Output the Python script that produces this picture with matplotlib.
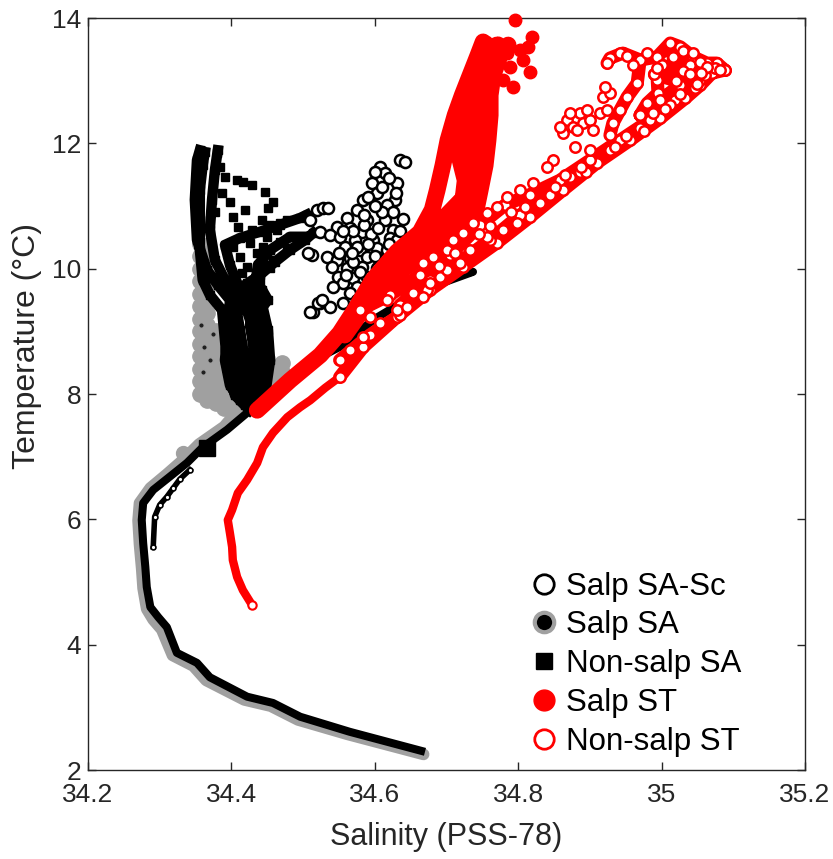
import numpy as np
import matplotlib
matplotlib.use("Agg")
import matplotlib.pyplot as plt
from matplotlib import font_manager
from matplotlib.lines import Line2D

nan = np.nan

# ---------------- data (Salinity, Temperature) ----------------
# Non-salp SA: main deep trace
nsa_trace_S = [34.670, 34.565, 34.496, 34.458, 34.422, 34.370, 34.352, 34.324, 34.310, 34.298,
               34.287, 34.282, 34.280, 34.277, 34.275, 34.277, 34.291, 34.314, 34.338, 34.360,
               34.394, 34.422, 34.440, 34.496, 34.551, 34.600, 34.667, 34.737, 34.700, 34.660]
nsa_trace_T = [2.29, 2.61, 2.85, 3.07, 3.17, 3.48, 3.71, 3.87, 4.28, 4.44,
               4.60, 4.92, 5.24, 5.62, 5.99, 6.26, 6.47, 6.68, 6.90, 7.15,
               7.43, 7.70, 7.86, 8.43, 8.75, 9.20, 9.66, 9.95, 9.90, 9.80]
# Non-salp SA: upper casts (nan separates casts)
nsa_cast_S = [34.437, 34.419, 34.405, 34.395, 34.391, 34.387, 34.370, 34.360, 34.356, 34.356, 34.356, 34.360, 34.363, nan,
              34.443, 34.426, 34.419, 34.412, 34.405, 34.391, 34.377, 34.370, 34.373, 34.377, 34.381, nan,
              34.433, 34.433, 34.426, 34.412, 34.398, 34.391, 34.412, 34.440, 34.468, 34.496, 34.505, nan,
              34.443, 34.447, 34.443, 34.426, 34.419, 34.440, 34.461, 34.482, 34.503, 34.514, nan,
              34.447, 34.454, 34.451, 34.443, 34.433, 34.437, 34.454, 34.482, 34.500, nan,
              34.426, 34.412, 34.398, 34.391, 34.395, 34.398, 34.381, 34.366, 34.352, 34.349, 34.352, 34.356, nan,
              34.451, 34.443, 34.433, 34.426, 34.440, 34.451, 34.443, nan,
              34.423, 34.409, 34.405, 34.402, 34.409, 34.423, 34.433]
nsa_cast_T = [7.74, 7.82, 7.98, 8.38, 8.86, 9.34, 9.58, 9.82, 10.30, 10.78, 11.25, 11.65, 11.86, nan,
              7.82, 8.06, 8.54, 9.02, 9.50, 9.82, 10.14, 10.62, 11.10, 11.57, 11.89, nan,
              7.98, 8.54, 9.18, 9.66, 10.06, 10.38, 10.49, 10.59, 10.70, 10.81, 10.86, nan,
              7.90, 8.38, 8.86, 9.50, 9.74, 9.90, 10.11, 10.30, 10.46, 10.57, nan,
              7.98, 8.54, 9.02, 9.42, 9.74, 10.06, 10.30, 10.51, 10.51, nan,
              7.74, 7.90, 8.14, 8.54, 9.02, 9.50, 9.74, 9.98, 10.46, 11.10, 11.73, 11.89, nan,
              7.90, 8.30, 8.70, 9.10, 9.34, 9.50, 9.66, nan,
              7.82, 8.22, 8.70, 9.18, 9.50, 9.66, 9.79]
# Non-salp SA: scattered squares
nsa_pts_S = [34.380, 34.384, 34.391, 34.408, 34.416, 34.429, 34.387, 34.398, 34.447, 34.458,
             34.377, 34.419, 34.451, 34.402, 34.443, 34.478, 34.409, 34.429, 34.454, 34.468,
             34.416, 34.450, 34.464, 34.482, 34.402, 34.426, 34.444, 34.468, 34.492, 34.412,
             34.436, 34.454, 34.478, 34.422, 34.444, 34.458, 34.415, 34.436, 34.454, 34.422, 34.440]
nsa_pts_T = [11.85, 11.62, 11.46, 11.41, 11.38, 11.33, 11.21, 11.06, 11.22, 11.06,
             10.90, 10.94, 10.97, 10.82, 10.78, 10.78, 10.66, 10.62, 10.70, 10.73,
             10.51, 10.51, 10.62, 10.51, 10.35, 10.41, 10.35, 10.43, 10.46, 10.19,
             10.25, 10.30, 10.33, 10.03, 10.11, 10.14, 9.93, 9.95, 10.01, 9.77, 9.82]
nsa_big_S = [34.366]
nsa_big_T = [7.14]

# Salp SA: trace (grey band) and shallow blob
ssa_trace_S = [34.668, 34.562, 34.493, 34.455, 34.418, 34.365, 34.347, 34.318, 34.303, 34.291,
               34.282, 34.277, 34.275, 34.272, 34.270, 34.272, 34.287, 34.310, 34.333, 34.355,
               34.390, 34.410, 34.430]
ssa_trace_T = [2.25, 2.57, 2.80, 3.02, 3.12, 3.43, 3.66, 3.83, 4.24, 4.40,
               4.57, 4.90, 5.22, 5.60, 5.98, 6.26, 6.50, 6.72, 6.95, 7.20,
               7.48, 7.75, 7.95]
ssa_blob_S = [34.356] * 13 + [34.366] * 13 + [34.378] * 7 + [34.390] * 5 + [34.402] * 3 + [34.414] * 2 \
             + [34.440] * 2 + [34.455] * 2 + [34.470] * 2
ssa_blob_T = [10.4, 10.2, 10.0, 9.8, 9.6, 9.4, 9.2, 9.0, 8.8, 8.6, 8.4, 8.2, 8.0,
              10.3, 10.1, 9.9, 9.7, 9.5, 9.3, 9.1, 8.9, 8.7, 8.5, 8.3, 8.1, 7.9,
              9.0, 8.8, 8.6, 8.4, 8.2, 8.0, 7.85,
              8.5, 8.3, 8.1, 7.9, 7.78,
              8.2, 8.0, 7.8,
              7.9, 7.78,
              8.2, 8.05, 8.35, 8.2, 8.5, 8.35]
ssa_dark_S = [34.358, 34.362, 34.370, 34.360, 34.374]
ssa_dark_T = [9.10, 8.75, 8.55, 8.35, 8.95]
ssa_big_S = [34.333]
ssa_big_T = [7.06]

# Salp SA-Sc: open black circles
sasc_S = [34.635, 34.607, 34.614, 34.596, 34.631, 34.603, 34.584, 34.628, 34.617, 34.575,
          34.625, 34.561, 34.589, 34.614, 34.547, 34.565, 34.582, 34.625, 34.524, 34.538,
          34.551, 34.572, 34.598, 34.621, 34.631, 34.558, 34.579, 34.603, 34.617, 34.512,
          34.533, 34.547, 34.565, 34.589, 34.611, 34.540, 34.561, 34.582, 34.603, 34.625,
          34.549, 34.570, 34.589, 34.607, 34.556, 34.575, 34.593, 34.542, 34.565, 34.524,
          34.538, 34.514, 34.556, 34.575, 34.519, 34.528, 34.535, 34.510, 34.507, 34.510,
          34.521, 34.526, 34.642, 34.600, 34.570, 34.585, 34.595, 34.605, 34.575, 34.590,
          34.600, 34.570, 34.580, 34.595, 34.610, 34.620, 34.610, 34.600, 34.590, 34.610,
          34.620, 34.585, 34.568, 34.555, 34.550, 34.560, 34.585, 34.600, 34.615, 34.630,
          34.640, 34.635, 34.640, 34.630]
sasc_T = [11.73, 11.62, 11.53, 11.37, 11.37, 11.21, 11.10, 11.10, 11.02, 10.94,
          10.90, 10.81, 10.78, 10.78, 10.66, 10.65, 10.59, 10.62, 10.59, 10.54,
          10.51, 10.46, 10.46, 10.49, 10.46, 10.35, 10.30, 10.33, 10.30, 10.22,
          10.19, 10.14, 10.17, 10.19, 10.14, 10.03, 10.01, 10.03, 10.01, 10.03,
          9.87, 9.85, 9.87, 9.90, 9.77, 9.71, 9.74, 9.71, 9.61, 9.45,
          9.39, 9.31, 9.45, 9.50, 10.94, 10.97, 10.97, 10.78, 10.25, 9.31,
          9.45, 9.50, 11.70, 11.55, 10.60, 10.70, 10.55, 10.65, 10.35, 10.40,
          10.20, 10.10, 9.95, 9.80, 10.05, 10.40, 10.90, 11.00, 11.15, 11.30,
          11.45, 10.85, 10.25, 10.60, 10.25, 9.90, 9.60, 9.65, 9.80, 9.95,
          10.20, 10.60, 10.80, 11.20]
sasc_trace_S = [34.291, 34.293, 34.300, 34.310, 34.319, 34.328, 34.342]
sasc_trace_T = [5.56, 6.04, 6.23, 6.36, 6.50, 6.64, 6.79]

# Salp ST: red filled (paths separated by nan)
st_path_S = [34.436, 34.482, 34.524, 34.551, 34.572, 34.597, 34.631, 34.663, 34.680, 34.687, 34.695, 34.702, 34.712, 34.722, 34.733, 34.744, 34.751, nan,
             34.558, 34.593, 34.621, 34.649, 34.677, 34.705, 34.722, 34.726, 34.719, 34.722, 34.730, 34.740, 34.750, 34.761, 34.770, nan,
             34.691, 34.719, 34.740, 34.747, 34.754, 34.758, 34.761, 34.761, 34.765, 34.775, 34.786, nan,
             34.655, 34.700, 34.738, 34.742, 34.745, 34.752, 34.760, nan,
             34.600, 34.640, 34.680, 34.710]
st_path_T = [7.74, 8.22, 8.62, 8.97, 9.34, 9.82, 10.27, 10.58, 10.94, 11.25, 11.65, 12.05, 12.45, 12.77, 13.09, 13.41, 13.62, nan,
             8.94, 9.50, 9.90, 10.22, 10.46, 10.70, 11.02, 11.41, 11.73, 12.05, 12.37, 12.69, 13.01, 13.33, 13.57, nan,
             10.62, 10.65, 10.86, 11.25, 11.65, 12.05, 12.45, 12.77, 13.09, 13.41, 13.57, nan,
             10.35, 10.85, 11.30, 11.80, 12.30, 12.80, 13.20, nan,
             9.55, 10.00, 10.30, 10.55]
st_pts_S = [34.819, 34.814, 34.807, 34.789, 34.816, 34.779, 34.793, 34.772, 34.784, 34.796, 34.803, 34.755]
st_pts_T = [13.70, 13.54, 13.33, 13.22, 13.14, 13.01, 12.90, 13.60, 13.44, 13.97, 13.49, 13.62]

# Non-salp ST: red open circles
nst_lower_S = [34.429, 34.416, 34.408, 34.402, 34.401, 34.398, 34.395, 34.401, 34.409, 34.422,
               34.436, 34.444, 34.458, 34.478, 34.496, 34.510, 34.531, 34.551]
nst_lower_T = [4.63, 4.87, 5.08, 5.35, 5.56, 5.78, 5.99, 6.15, 6.42, 6.63,
               6.90, 7.15, 7.38, 7.63, 7.79, 7.90, 8.10, 8.27]
nst_band_S = [34.551, 34.584, 34.631, 34.677, 34.723, 34.770, 34.816, 34.862, 34.910, 34.956, 34.998, 35.033, 35.054, 35.070, 35.088, nan,
              34.579, 34.621, 34.663, 34.705, 34.747, 34.782, 34.816, 34.858, 34.900, 34.942, 34.984, 35.019, 35.054, 35.077, nan,
              34.635, 34.677, 34.719, 34.761, 34.803, 34.844, 34.886, 34.928, 34.970, 35.012, 35.047, nan,
              34.551, 34.593, 34.635, nan,
              35.088, 35.077, 35.063, 35.044, 35.026, 35.012, 34.994, 34.970, 34.946, 34.928, 34.924, nan,
              34.970, 34.966, 34.952, 34.942, 34.932, 34.928, nan,
              34.994, 34.995, 34.980, 34.970, nan,
              34.970, 34.998, 35.026, 35.054, 35.075, nan,
              35.016, 35.040, 35.061, 35.081, nan,
              35.000, 35.030, 35.060, nan,
              34.990, 35.020, 35.050]
nst_band_T = [8.27, 8.75, 9.23, 9.66, 10.03, 10.41, 10.82, 11.25, 11.69, 12.05, 12.40, 12.72, 12.93, 13.12, 13.17, nan,
              9.34, 9.58, 9.90, 10.22, 10.70, 11.02, 11.18, 11.41, 11.73, 12.05, 12.37, 12.69, 13.01, 13.20, nan,
              9.42, 9.82, 10.11, 10.46, 10.86, 11.18, 11.54, 11.89, 12.24, 12.61, 12.88, nan,
              8.54, 8.94, 9.26, nan,
              13.17, 13.28, 13.28, 13.38, 13.54, 13.60, 13.38, 13.33, 13.44, 13.36, 13.28, nan,
              13.33, 12.96, 12.74, 12.53, 12.32, 12.13, nan,
              13.01, 12.80, 12.64, 12.45, nan,
              12.45, 12.69, 12.93, 13.14, 13.20, nan,
              13.38, 13.25, 13.09, 13.17, nan,
              13.25, 13.15, 13.20, nan,
              13.10, 13.00, 12.95]
nst_pts_S = [34.862, 34.868, 34.876, 34.886, 34.890, 34.900, 34.904, 34.914, 34.924, 34.882,
             34.896, 34.918, 34.928, 34.921, 34.858, 34.872,
             34.879, 34.900, 34.872, 34.849, 34.840, 34.821, 34.803, 34.784, 34.770, 34.756,
             34.737, 34.723, 34.709, 34.701, 34.681, 34.667, 34.798, 34.779, 34.756, 34.733,
             34.719, 34.691, 34.673,
             34.565, 34.584, 34.607, 34.631, 34.617, 34.653, 34.677, 34.701, 34.593, 34.645, 34.667,
             34.942, 34.952, 34.960, 34.979, 34.994, 35.030, 35.044, 35.054, 35.063, 35.040, 35.055,
             34.745, 34.790, 34.830, 34.865, 34.895, 34.935, 34.975, 35.005, 34.690, 34.712, 34.760,
             34.810, 34.852, 34.888, 34.950, 34.988, 35.025]
nst_pts_T = [12.16, 12.37, 12.26, 12.48, 12.32, 12.37, 12.21, 12.48, 12.53, 12.21,
             12.53, 12.74, 12.80, 12.90, 12.26, 12.48,
             11.94, 11.89, 11.46, 11.73, 11.62, 11.37, 11.25, 11.14, 10.98, 10.89,
             10.73, 10.57, 10.46, 10.30, 10.19, 10.09, 10.73, 10.62, 10.51, 10.30,
             10.09, 9.87, 9.66,
             8.70, 8.91, 9.13, 9.34, 9.50, 9.61, 9.77, 9.98, 9.23, 9.39, 9.55,
             13.44, 13.40, 13.25, 13.44, 13.20, 13.48, 13.45, 13.30, 13.22, 13.10, 13.12,
             10.55, 10.90, 11.05, 11.50, 11.55, 11.95, 12.20, 12.55, 10.05, 10.25, 10.68,
             10.98, 11.30, 11.62, 12.12, 12.48, 12.78]

x_ticks = [34.2, 34.4, 34.6, 34.8, 35.0, 35.2]
x_ticklabels = ["34.2", "34.4", "34.6", "34.8", "35", "35.2"]
y_ticks = [2, 4, 6, 8, 10, 12, 14]
legend_labels = ["Salp SA-Sc", "Salp SA", "Non-salp SA", "Salp ST", "Non-salp ST"]

# ---------------- fonts ----------------
def pick(names):
    for n in names:
        try:
            font_manager.findfont(font_manager.FontProperties(family=n), fallback_to_default=False)
            return n
        except Exception:
            pass
    return "DejaVu Sans"

narrow = pick(["Liberation Sans Narrow", "Liberation Sans", "Arial"])
regular = pick(["Liberation Sans", "Arial"])
plt.rcParams["font.family"] = [regular, "DejaVu Sans"]

RED = "#ff0000"
GREY = "#a0a0a0"
INK = "#262626"

fig = plt.figure(figsize=(8.33, 8.59), dpi=100)
ax = fig.add_axes([0.1056, 0.1036, 0.8608, 0.8754])

# Salp SA (grey edge, black face)
ax.plot(ssa_trace_S, ssa_trace_T, "-", color=GREY, lw=8.5, solid_capstyle="round", zorder=1)
ax.plot(ssa_blob_S, ssa_blob_T, "o", ms=11, mfc=GREY, mec=GREY, ls="none", zorder=1)
ax.plot(ssa_dark_S, ssa_dark_T, "o", ms=4, mfc="#202020", mec=GREY, mew=1, ls="none", zorder=1)
ax.plot(ssa_big_S, ssa_big_T, "o", ms=10, mfc=GREY, mec=GREY, ls="none", zorder=1)

# Non-salp SA (black squares)
ax.plot(nsa_trace_S, nsa_trace_T, "-", color="black", lw=5.8, solid_capstyle="butt", zorder=2)
ax.plot(nsa_cast_S, nsa_cast_T, "-s", color="black", lw=7.5, ms=6, zorder=2)
ax.plot(nsa_pts_S, nsa_pts_T, "s", color="black", ms=5.5, ls="none", zorder=2)
ax.plot(nsa_big_S, nsa_big_T, "s", color="black", ms=12, ls="none", zorder=2)

# Salp SA-Sc (black open circles)
ax.plot(sasc_trace_S, sasc_trace_T, "-o", color="black", lw=4, ms=3.5, mfc="white", mec="black", mew=1.2, zorder=3)
ax.plot(sasc_S, sasc_T, "o", ms=8, mfc="white", mec="black", mew=1.8, ls="none", zorder=3)

# Salp ST (red filled)
ax.plot(st_path_S, st_path_T, "-", color=RED, lw=12, solid_capstyle="round", solid_joinstyle="round", zorder=4)
ax.plot(st_pts_S, st_pts_T, "o", color=RED, ms=9, ls="none", zorder=4, clip_on=False)

# Non-salp ST (red open circles)
ax.plot(nst_lower_S, nst_lower_T, "-", color=RED, lw=6, solid_capstyle="round", zorder=5)
ax.plot(nst_lower_S[:1], nst_lower_T[:1], "o", ms=6, mfc="white", mec=RED, mew=1.5, zorder=5)
ax.plot(nst_band_S, nst_band_T, "-o", color=RED, lw=9.5, ms=7.5, mfc="white", mec=RED, mew=1.8,
        solid_capstyle="round", zorder=5)
ax.plot(nst_pts_S, nst_pts_T, "o", ms=7.5, mfc="white", mec=RED, mew=1.8, ls="none", zorder=5)

ax.set_xlim(34.2, 35.2)
ax.set_ylim(2, 14)
ax.set_xticks(x_ticks)
ax.set_xticklabels(x_ticklabels)
ax.set_yticks(y_ticks)
ax.tick_params(direction="in", top=True, right=True, length=6, width=1, colors=INK,
               labelsize=19)
ax.tick_params(axis="x", pad=9)
ax.tick_params(axis="y", pad=5)
for lab in ax.get_xticklabels() + ax.get_yticklabels():
    lab.set_family([narrow, "DejaVu Sans"])
for sp in ax.spines.values():
    sp.set_color(INK)
    sp.set_linewidth(1)

ax.set_xlabel("Salinity (PSS-78)", fontsize=22, family=[narrow, "DejaVu Sans"], color=INK, labelpad=11)
ax.set_ylabel("Temperature (\u00b0C)", fontsize=23, family=[narrow, "DejaVu Sans"], color=INK)
ax.yaxis.set_label_coords(-0.064, 0.564)

handles = [
    Line2D([], [], marker="o", ls="none", ms=14, mfc="white", mec="black", mew=2),
    Line2D([], [], marker="o", ls="none", ms=14, mfc="black", mec=GREY, mew=3),
    Line2D([], [], marker="s", ls="none", ms=12, mfc="black", mec="black"),
    Line2D([], [], marker="o", ls="none", ms=15, mfc=RED, mec=RED),
    Line2D([], [], marker="o", ls="none", ms=14, mfc="white", mec=RED, mew=2),
]
ax.legend(handles, legend_labels, loc="lower right", bbox_to_anchor=(0.937, -0.007),
          frameon=False, fontsize=22.5, handlelength=0.8, handletextpad=0.3,
          labelspacing=0.28, borderaxespad=0.2)

fig.savefig("out.png", dpi=100)
